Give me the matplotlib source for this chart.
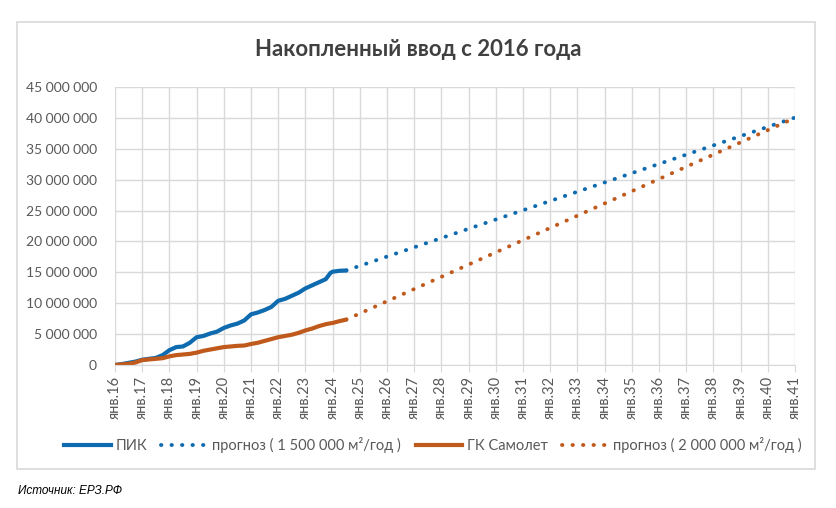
import matplotlib
matplotlib.use("Agg")
from matplotlib import pyplot as plt
from matplotlib.patches import Rectangle
from matplotlib.ticker import FuncFormatter, MultipleLocator
from matplotlib.lines import Line2D

plt.rcParams['font.family'] = ['Lato', 'DejaVu Sans']

# quarterly points, years as fractions
years = [2016.0, 2016.25, 2016.5, 2016.75, 2017.0, 2017.25, 2017.5, 2017.75,
         2018.0, 2018.25, 2018.5, 2018.75, 2019.0, 2019.25, 2019.5, 2019.75,
         2020.0, 2020.25, 2020.5, 2020.75, 2021.0, 2021.25, 2021.5, 2021.75,
         2022.0, 2022.25, 2022.5, 2022.75, 2023.0, 2023.25, 2023.5, 2023.75,
         2023.92, 2024.0, 2024.25, 2024.5]
pik = [0, 0.15, 0.35, 0.55, 0.85, 1.0, 1.15, 1.6,
       2.4, 2.9, 3.0, 3.6, 4.5, 4.7, 5.1, 5.4,
       6.0, 6.4, 6.7, 7.2, 8.2, 8.5, 8.9, 9.4,
       10.4, 10.7, 11.2, 11.7, 12.4, 12.9, 13.4, 13.9,
       14.9, 15.1, 15.25, 15.3]
samolet = [0, 0.1, 0.2, 0.4, 0.8, 0.9, 1.0, 1.1,
           1.4, 1.6, 1.7, 1.8, 2.0, 2.3, 2.5, 2.7,
           2.9, 3.0, 3.1, 3.15, 3.4, 3.6, 3.9, 4.2,
           4.5, 4.7, 4.9, 5.2, 5.6, 5.9, 6.3, 6.6,
           6.75, 6.8, 7.1, 7.35]

fc_years = [2024.5, 2041.0]
pik_fc = [15.3, 40.05]
samolet_fc = [7.35, 40.0]

tick_years = list(range(2016, 2042))
tick_labels = ['янв.%02d' % (y % 100) for y in tick_years]

blue = '#0e6bb0'
brown = '#c0591c'
dots = (0, (0.1, 2.6))

fig = plt.figure(figsize=(8.36, 5.08), dpi=100)
fig.patches.append(Rectangle((17 / 836, 1 - 469 / 508), 798 / 836, 447 / 508,
                             transform=fig.transFigure, fill=False,
                             edgecolor='#d9d9d9', linewidth=1.2))

ax = fig.add_axes([115 / 836, 1 - 365 / 508, 680 / 836, 278 / 508])
M = 1e6
ax.plot(years, [v * M for v in pik], color=blue, lw=3, solid_capstyle='round')
ax.plot(fc_years, [v * M for v in pik_fc], color=blue, lw=2.8,
        linestyle=dots, dash_capstyle='round')
ax.plot(years, [v * M for v in samolet], color=brown, lw=3, solid_capstyle='round')
ax.plot(fc_years, [v * M for v in samolet_fc], color=brown, lw=2.8,
        linestyle=dots, dash_capstyle='round')

ax.set_xlim(2016, 2041)
ax.set_ylim(0, 45e6)
ax.yaxis.set_major_locator(MultipleLocator(5e6))
ax.yaxis.set_major_formatter(FuncFormatter(lambda v, p: '{:,.0f}'.format(v).replace(',', ' ')))
ax.set_xticks(tick_years)
ax.set_xticklabels(tick_labels, rotation=90)
ax.grid(True, color='#d9d9d9', lw=1)
ax.set_axisbelow(True)
for s in ['top', 'right', 'left']:
    ax.spines[s].set_visible(False)
ax.spines['bottom'].set_color('#d9d9d9')
ax.tick_params(axis='x', length=5, color='#d9d9d9', labelsize=10.5, labelcolor='#595959', pad=3)
ax.tick_params(axis='y', length=0, labelsize=10, labelcolor='#595959', pad=13)

fig.text(0.5, 1 - 50 / 508, 'Накопленный ввод с 2016 года', ha='center', va='center',
         fontsize=16, fontweight='bold', color='#404040')

handles = [
    Line2D([], [], color=blue, lw=3),
    Line2D([], [], color=blue, lw=2.8, linestyle=dots, dash_capstyle='round'),
    Line2D([], [], color=brown, lw=3),
    Line2D([], [], color=brown, lw=2.8, linestyle=dots, dash_capstyle='round'),
]
labels = ['ПИК', 'прогноз ( 1 500 000 м²/год )', 'ГК Самолет', 'прогноз ( 2 000 000 м²/год )']
fig.legend(handles, labels, loc='center', bbox_to_anchor=(0.518, 1 - 445 / 508), ncol=4,
           frameon=False, fontsize=10.5, labelcolor='#595959', handlelength=3.2,
           handletextpad=0.3, columnspacing=1.0)

fig.text(18 / 836, 1 - 491 / 508, 'Источник: ЕРЗ.РФ', ha='left', va='center',
         fontsize=8.5, style='italic', color='#000000', family=['Liberation Sans', 'DejaVu Sans'])

plt.savefig('out.png', dpi=100)
